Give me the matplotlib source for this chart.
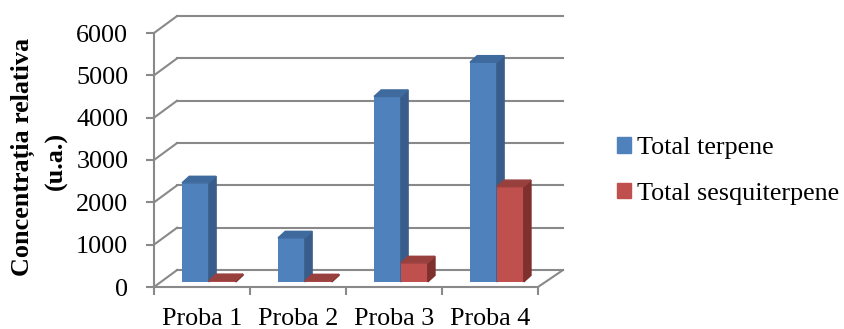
import matplotlib.pyplot as plt
from matplotlib.patches import Polygon, Patch

# valori citite pe probe (u.a.)
probe = ["Proba 1", "Proba 2", "Proba 3", "Proba 4"]
terpene = [2340, 1040, 4380, 5190]
sesquiterpene = [30, 25, 450, 2250]
serii = ["Total terpene", "Total sesquiterpene"]
yticks = [0, 1000, 2000, 3000, 4000, 5000, 6000]

plt.rcParams['font.family'] = ['Liberation Serif', 'DejaVu Serif']
fs = 18.8
gri = "#898989"

# culori: fata, lateral, sus
culori = [("#4F81BD", "#385D8A", "#3F6A9E"),
          ("#C0504D", "#7E302E", "#98403D")]

# adancime perete (x in categorii, y in unitati)
DX, DY = 0.24, 400
# pozitia barelor in adancime si grosimea lor
d0x, d0y = 0.3 * DX, 0.3 * DY
bdx, bdy = 0.075, 155
lat = 0.28

fig = plt.figure(figsize=(8.44, 3.29), dpi=100)
ax = fig.add_axes([154 / 844, 42 / 329, 384 / 844, 254 / 329])
ax.set_xlim(0, 4)
ax.set_ylim(0, 6000)
ax.patch.set_visible(False)

# peretii: linii de grila pe spate si pe stanga
for v in yticks:
    ax.plot([0, DX], [v, v + DY], color=gri, lw=1.5, clip_on=False, zorder=0)
    ax.plot([DX, 4 + DX + 0.02], [v + DY, v + DY], color=gri, lw=1.5,
            clip_on=False, zorder=0)
# podeaua, marginea din dreapta
ax.plot([4, 4 + DX + 0.02], [0, DY], color=gri, lw=1.5, clip_on=False, zorder=0)


def bara(x0, v, c):
    fata, lateral, sus = c
    b = d0y
    x1 = x0 + lat
    ax.bar(x0, v, width=lat, bottom=b, align='edge', color=fata,
           edgecolor='none', clip_on=False, zorder=2)
    ax.add_patch(Polygon([(x1, b), (x1 + bdx, b + bdy), (x1 + bdx, b + v + bdy),
                          (x1, b + v)], closed=True, color=lateral,
                         clip_on=False, zorder=2))
    ax.add_patch(Polygon([(x0, b + v), (x0 + bdx, b + v + bdy),
                          (x1 + bdx, b + v + bdy), (x1, b + v)], closed=True,
                         color=sus, clip_on=False, zorder=2))


for i in range(len(probe)):
    centru = i + 0.5 + d0x
    bara(centru - lat, terpene[i], culori[0])
    bara(centru, sesquiterpene[i], culori[1])

# axe
for s in ["top", "right"]:
    ax.spines[s].set_visible(False)
for s in ["left", "bottom"]:
    ax.spines[s].set_color(gri)
    ax.spines[s].set_linewidth(1.5)
    ax.spines[s].set_zorder(5)

ax.set_yticks(yticks)
ax.set_yticklabels([str(v) for v in yticks], fontsize=fs)
ax.tick_params(axis='y', length=5.5, width=1.5, color=gri, pad=13)

ax.set_xticks([0, 1, 2, 3, 4])
ax.set_xticklabels([])
ax.set_xticks([0.5, 1.5, 2.5, 3.5], minor=True)
ax.set_xticklabels(probe, minor=True, fontsize=fs)
ax.tick_params(axis='x', which='major', length=5.5, width=1.5, color=gri)
ax.tick_params(axis='x', which='minor', length=0, pad=15)

fig.text(23 / 844, 1 - 157 / 329, "Concentrația relativa", rotation=90,
         ha='center', va='center', fontsize=fs, fontweight='bold')
fig.text(56 / 844, 1 - 161 / 329, "(u.a.)", rotation=90,
         ha='center', va='center', fontsize=fs, fontweight='bold')

handles = [Patch(color=culori[0][0]), Patch(color=culori[1][0])]
fig.legend(handles, serii, loc='center left',
           bbox_to_anchor=(617 / 844, 1 - 171 / 329), frameon=False,
           fontsize=fs, handlelength=0.55, handleheight=0.55,
           handletextpad=0.2, labelspacing=0.9, borderpad=0, borderaxespad=0)

fig.savefig("out.png", dpi=100)
